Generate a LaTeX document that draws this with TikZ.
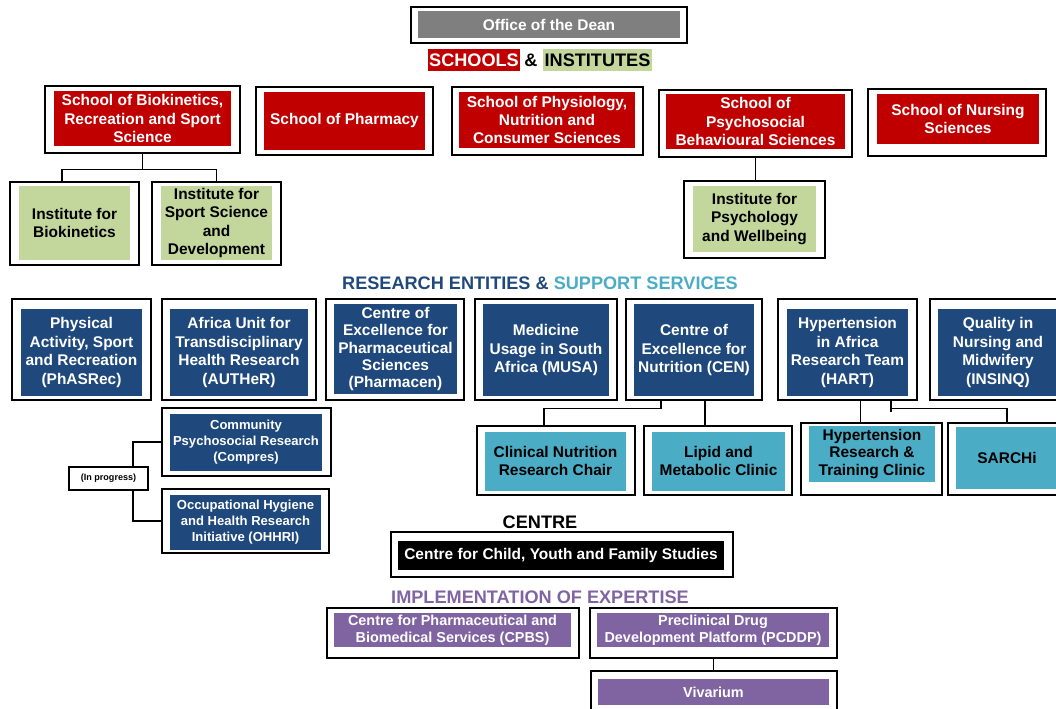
\documentclass[tikz,border=0pt]{standalone}
\usepackage{fontspec}
\setmainfont{Liberation Sans}
\usetikzlibrary{calc}
\definecolor{schred}{HTML}{C00000}
\definecolor{instgreen}{HTML}{C3D69B}
\definecolor{resblue}{HTML}{1F497D}
\definecolor{supblue}{HTML}{4BACC6}
\definecolor{impl}{HTML}{8064A2}
\definecolor{deangray}{HTML}{7F7F7F}
\newcommand{\fMain}{\fontsize{11.6}{13.8}\selectfont\bfseries}
\newcommand{\fTight}{\fontsize{11.6}{13.1}\selectfont\bfseries}
\newcommand{\fSmall}{\fontsize{9.8}{12}\selectfont\bfseries}
\newcommand{\fPurp}{\fontsize{10.8}{12.8}\selectfont\bfseries}
\newcommand{\fTiny}{\fontsize{6.8}{8}\selectfont\bfseries}
\newcommand{\fHead}{\fontsize{13.6}{16}\selectfont\bfseries}
\newcommand{\OBox}[5]{\node[outerbox, minimum width=#4*0.75pt, minimum height=#5*0.75pt] (#1) at (#2,#3) {};}
\newcommand{\IBox}[7]{\node[#6, minimum width=#4*0.75pt, minimum height=#5*0.75pt] (#1) at (#2,#3) {#7};}
\begin{document}
\begin{tikzpicture}[x=0.75pt,y=-0.75pt,
 outerbox/.style={draw=black,line width=1.1pt,inner sep=0pt},
 base/.style={inner sep=0pt,align=center,font=\fMain},
 redb/.style={base,fill=schred,text=white},
 greenb/.style={base,fill=instgreen,text=black},
 blueb/.style={base,fill=resblue,text=white},
 sblueb/.style={base,fill=supblue,text=black},
 purpb/.style={base,fill=impl,text=white,font=\fPurp},
 conn/.style={draw=black,line width=0.9pt},
 heading/.style={font=\fHead,inner sep=0pt}]
\useasboundingbox (0,0) rectangle (1056,709);
% Dean
\OBox{deanO}{549}{25}{276}{36}
\IBox{dean}{549}{24.5}{262}{27}{base,fill=deangray,text=white}{Office of the Dean}
% heading schools
\node[heading,fill=schred,text=white,minimum width=92*0.75pt,minimum height=22*0.75pt] (hSch) at (474,60) {SCHOOLS};
\node[heading] (hAmp) at (531,60) {\&};
\node[heading,fill=instgreen,minimum width=109*0.75pt,minimum height=22*0.75pt] (hInst) at (597.5,60) {INSTITUTES};
% schools
\OBox{sBioO}{142.5}{119.5}{195}{67}
\IBox{sBio}{142.5}{118.5}{177}{55}{redb}{School of Biokinetics,\\Recreation and Sport\\Science}
\OBox{sPhaO}{344.5}{121}{177}{68}
\IBox{sPha}{344.5}{121}{161}{58}{redb}{School of Pharmacy}
\OBox{sPhyO}{547.5}{121}{191}{68}
\IBox{sPhy}{547}{120}{176}{56}{redb}{School of Physiology,\\Nutrition and\\Consumer Sciences}
\OBox{sPsyO}{755.5}{123.5}{193}{67}
\IBox{sPsy}{755.5}{121.5}{179}{55}{redb}{School of\\Psychosocial\\Behavioural Sciences}
\OBox{sNurO}{957}{122.5}{178}{67}
\IBox{sNur}{958}{119}{162}{50}{redb}{School of Nursing\\Sciences}
% institutes
\OBox{iBioO}{74.5}{223.5}{129}{83}
\IBox{iBio}{74.5}{223}{111}{74}{greenb}{Institute for\\Biokinetics}
\OBox{iSpoO}{216.5}{223.5}{129}{83}
\IBox{iSpo}{216.5}{223}{111}{74}{greenb}{Institute for\\Sport Science\\and\\Development}
\OBox{iPsyO}{754.5}{219.5}{141}{77}
\IBox{iPsy}{754.5}{219}{123}{66}{greenb}{Institute for\\Psychology\\and Wellbeing}
% research heading
\node[heading] (hRes) at (540,283) {\textcolor{resblue}{RESEARCH ENTITIES \&} \textcolor{supblue}{SUPPORT SERVICES}};
% research entities
\OBox{rPhaO}{81.5}{349.5}{139}{101}
\IBox{rPha}{81.5}{352.5}{121}{87}{blueb}{Physical\\Activity, Sport\\and Recreation\\(PhASRec)}
\OBox{rAutO}{239}{349.5}{154}{101}
\IBox{rAut}{239}{352.5}{138}{87}{blueb}{Africa Unit for\\Transdisciplinary\\Health Research\\(AUTHeR)}
\OBox{rPmcO}{395}{349.5}{138}{101}
\IBox{rPmc}{395.5}{349}{123}{90}{blueb,font=\fTight}{Centre of\\Excellence for\\Pharmaceutical\\Sciences\\(Pharmacen)}
\OBox{rMusO}{546}{349.5}{142}{101}
\IBox{rMus}{546}{350}{126}{92}{blueb}{Medicine\\Usage in South\\Africa (MUSA)}
\OBox{rCenO}{694}{349.5}{136}{101}
\IBox{rCen}{694}{350}{120}{92}{blueb}{Centre of\\Excellence for\\Nutrition (CEN)}
\OBox{rHarO}{847.5}{349.5}{139}{101}
\IBox{rHar}{847.5}{352.5}{121}{87}{blueb}{Hypertension\\in Africa\\Research Team\\(HART)}
\OBox{rInsO}{998}{349.5}{136}{101}
\IBox{rIns}{998}{352.5}{120}{87}{blueb}{Quality in\\Nursing and\\Midwifery\\(INSINQ)}
% support services
\OBox{cNutO}{556}{460.5}{158}{69}
\IBox{cNut}{555.5}{461}{141}{59}{sblueb}{Clinical Nutrition\\Research Chair}
\OBox{cLipO}{718}{460.5}{148}{69}
\IBox{cLip}{718.5}{461}{133}{59}{sblueb}{Lipid and\\Metabolic Clinic}
\OBox{cHypO}{871.5}{459}{141}{72}
\IBox{cHyp}{872}{454}{126}{56}{sblueb,font=\fTight}{Hypertension\\Research \&\\Training Clinic}
\OBox{cSarO}{1007}{459}{118}{72}
\IBox{cSar}{1007}{458}{102}{62}{sblueb}{SARCHi}
% left in progress entities
\OBox{lComO}{246.5}{442}{169}{68}
\IBox{lCom}{246}{442.5}{152}{57}{blueb,font=\fSmall}{Community\\Psychosocial Research\\(Compres)}
\OBox{lOccO}{245.5}{521}{167}{64}
\IBox{lOcc}{245.5}{522.5}{151}{55}{blueb,font=\fSmall}{Occupational Hygiene\\and Health Research\\Initiative (OHHRI)}
\node[draw=black,line width=0.9pt,minimum width=79*0.75pt,minimum height=23*0.75pt,inner sep=0pt,font=\fTiny] (prog) at (108.5,478.5) {(In progress)};
% centre
\node[heading] (hCen) at (540,522) {CENTRE};
\OBox{cenO}{562}{554.5}{342}{45}
\IBox{cen}{561}{555.5}{326}{29}{base,fill=black,text=white}{Centre for Child, Youth and Family Studies}
% implementation
\node[heading,text=impl] (hImp) at (540,597) {IMPLEMENTATION OF EXPERTISE};
\OBox{pCpbO}{453}{633}{252}{50}
\IBox{pCpb}{452.5}{630}{237}{34}{purpb}{Centre for Pharmaceutical and\\Biomedical Services (CPBS)}
\OBox{pPcdO}{713.5}{633}{247}{50}
\IBox{pPcd}{713}{630}{232}{34}{purpb}{Preclinical Drug\\Development Platform (PCDDP)}
\OBox{pVivO}{714}{693}{246}{44}
\IBox{pViv}{713.5}{692}{231}{26}{purpb}{Vivarium}
% connectors
\draw[conn] (sBioO.south) -- ++(0,16) coordinate (bkj);
\draw[conn] ($(iBioO.north)+(-12.5,0)$) |- (bkj) -| (iSpoO.north);
\draw[conn] (sPsyO.south) -- (sPsyO.south |- iPsyO.north);
\coordinate (cenL) at ($(rCenO.south)+(-33,0)$);
\draw[conn] (cenL) -- ++(0,8) -| ($(cNutO.north)+(-12,0)$);
\coordinate (cenR) at ($(rCenO.south)+(11,0)$);
\draw[conn] (cenR) -- (cenR |- cLipO.north);
\coordinate (harL) at ($(rHarO.south)+(13,0)$);
\draw[conn] (harL) -- (harL |- cHypO.north);
\coordinate (harR) at ($(rHarO.south)+(43.5,0)$);
\draw[conn] (harR) -- ++(0,11);
\draw[conn] (harR) -- ++(0,8) -| (cSarO.north);
\draw[conn] (lComO.west) -| ($(prog.north)+(24.5,0)$);
\draw[conn] ($(prog.south)+(24.5,0)$) |- (lOccO.west);
\draw[conn] (pPcdO.south) -- (pPcdO.south |- pVivO.north);
\end{tikzpicture}
\end{document}
